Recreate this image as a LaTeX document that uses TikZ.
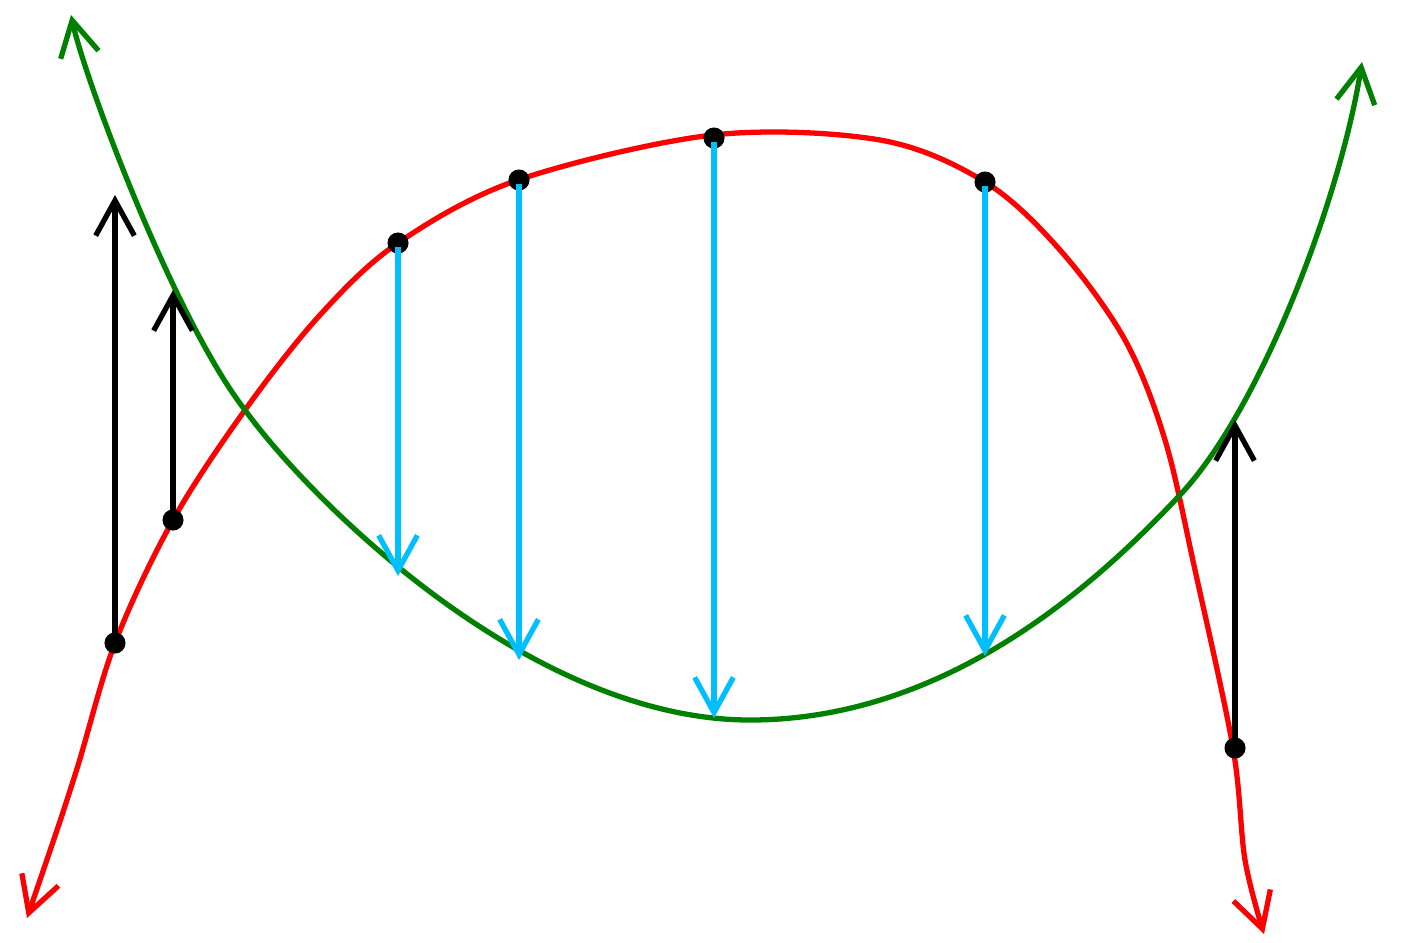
\documentclass[tikz,border=0pt]{standalone}
\usetikzlibrary{arrows.meta}
\definecolor{Cfishred}{HTML}{FF0000}
\definecolor{Cfishgreen}{HTML}{008000}
\definecolor{Cdropblue}{HTML}{00BFFF}
\tikzset{
  curveline/.style={line width=1.5pt,line cap=round,line join=round},
  barb/.style={-{Straight Barb[length=10pt,width=11pt,line width=1.5pt]}},
  dot/.style={circle,fill=black,inner sep=0pt,minimum size=6pt},
  liftarrow/.style={barb,black,line width=1.6pt,shorten <=-2pt},
  droparrow/.style={barb,Cdropblue,line width=1.5pt,shorten <=-2pt}
}
\begin{document}
\begin{tikzpicture}[x=0.01cm,y=-0.01cm]
	\useasboundingbox (0,0) rectangle (1406,942);
	% the two curves
	\draw[curveline,Cfishred,{Straight Barb[length=10pt,width=11pt,line width=1.5pt]}-{Straight Barb[length=10pt,width=11pt,line width=1.5pt]}]
	plot[smooth,tension=0.55] coordinates {(27,918) (75,775) (115,643) (173,520) (245,410) (320,315) (398,243) (518,180) (713,135) (880,140) (985,182) (1060,250) (1125,340) (1165,440) (1195,570) (1233,748) (1245,860) (1264,934)};
	\draw[curveline,Cfishgreen,{Straight Barb[length=10pt,width=11pt,line width=1.5pt]}-{Straight Barb[length=10pt,width=11pt,line width=1.5pt]}]
	(71,15) .. controls (85,80) and (175,320) .. (245,410)
	.. controls (310,500) and (530,720) .. (750,720)
	.. controls (950,720) and (1100,580) .. (1180,495)
	.. controls (1260,410) and (1340,200) .. (1362,62);
	% points on the red curve
	\node[dot] (r1) at (115,643) {};
	\node[dot] (r2) at (173,520) {};
	\node[dot] (r3) at (398,243) {};
	\node[dot] (r4) at (519,180) {};
	\node[dot] (r5) at (714,138) {};
	\node[dot] (r6) at (985,182) {};
	\node[dot] (r7) at (1235,748) {};
	% ends of the arrows
	\coordinate (u1) at (115,195);
	\coordinate (u2) at (173,290);
	\coordinate (u7) at (1235,420);
	\coordinate (g3) at (398,576);
	\coordinate (g4) at (519,660);
	\coordinate (g5) at (714,718);
	\coordinate (g6) at (985,656);
	% black arrows up
	\draw[liftarrow] (r1) -- (u1);
	\draw[liftarrow] (r2) -- (u2);
	\draw[liftarrow] (r7) -- (u7);
	% blue arrows down
	\draw[droparrow] (r3) -- (g3);
	\draw[droparrow] (r4) -- (g4);
	\draw[droparrow] (r5) -- (g5);
	\draw[droparrow] (r6) -- (g6);
\end{tikzpicture}
\end{document}
